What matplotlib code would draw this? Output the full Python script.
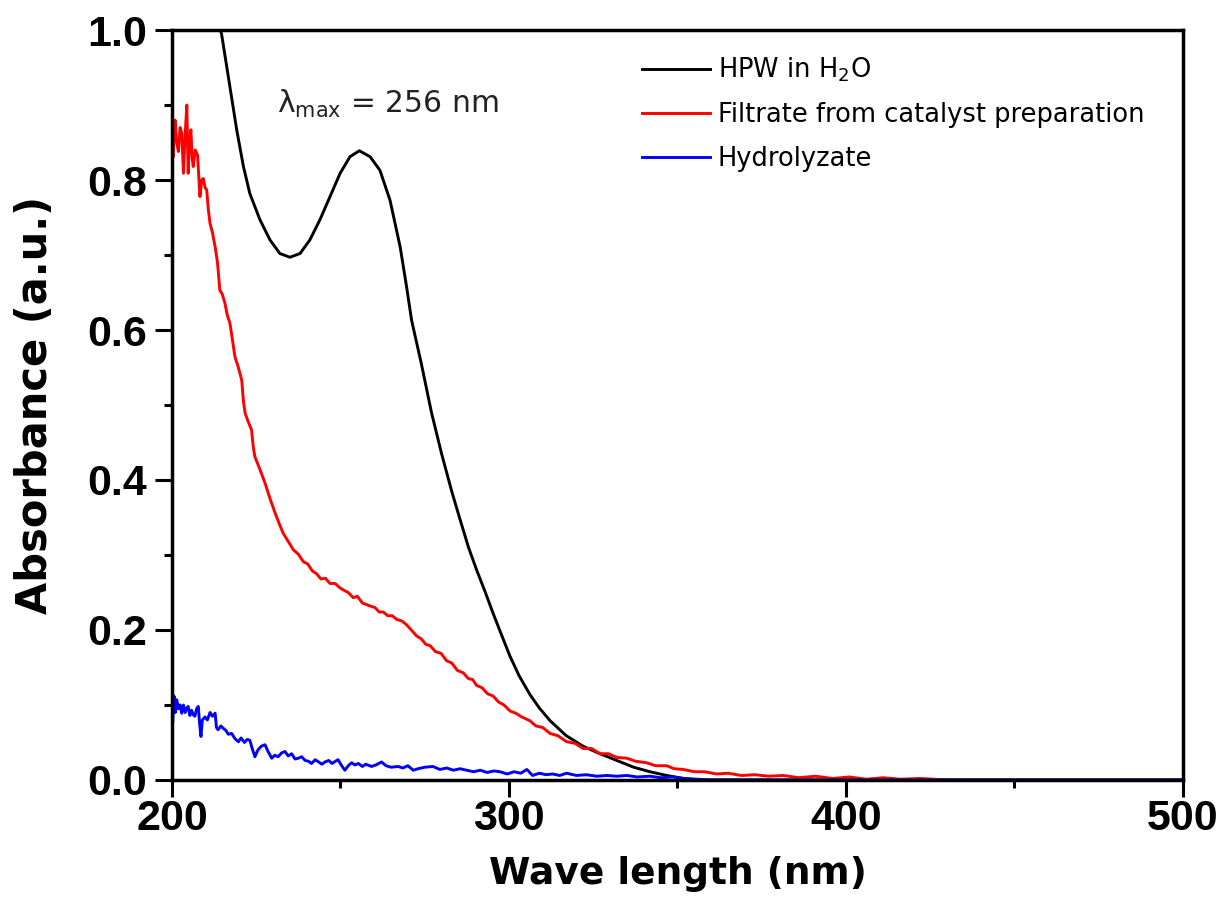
import numpy as np
import matplotlib
matplotlib.use('Agg')
import matplotlib.pyplot as plt
from matplotlib.ticker import MultipleLocator

# HPW in H2O (black)
hpw_wl = [212.8, 214.7, 217.2, 219.2, 221.2, 223.1, 226.1, 229.1, 232.0, 235.0,
          238.0, 240.9, 243.9, 246.9, 249.9, 252.8, 255.6, 258.8, 261.7, 264.7,
          267.7, 269.6, 271.1, 274.0, 277.0, 280.0, 283.0, 285.5, 288.0, 290.4,
          293.0, 295.3, 298.0, 300.3, 303.0, 306.2, 309.0, 312.2, 317.0, 322.0,
          327.0, 332.0, 337.0, 341.8, 346.8, 351.7, 356.0, 400.0, 450.0, 500.0]
hpw_abs = [1.02, 0.995, 0.924, 0.867, 0.818, 0.782, 0.747, 0.72, 0.702, 0.697,
           0.702, 0.72, 0.747, 0.778, 0.809, 0.831, 0.839, 0.831, 0.813, 0.773,
           0.711, 0.658, 0.613, 0.555, 0.49, 0.435, 0.385, 0.347, 0.31, 0.28,
           0.25, 0.222, 0.191, 0.165, 0.139, 0.114, 0.096, 0.079, 0.059, 0.045,
           0.035, 0.026, 0.017, 0.011, 0.006, 0.002, 0.0, 0.0, 0.0, 0.0]

# Filtrate from catalyst preparation (red)
filt_wl = [200.0, 200.3, 200.9, 201.4, 201.9, 202.4, 202.9, 203.4, 203.9, 204.4,
           204.8, 205.2, 205.6, 206.0, 206.3, 206.9, 207.6, 208.0, 208.3, 208.8,
           209.3, 209.8, 210.3, 210.8, 211.3, 212.0, 212.8, 213.5, 214.2, 214.9,
           215.7, 216.4, 217.2, 218.0, 218.7, 219.7, 220.7, 221.2, 221.7, 222.6,
           223.6, 224.1, 224.6, 226.1, 227.6, 229.1, 230.6, 231.8, 233.0, 234.5,
           236.0, 237.5, 239.0, 240.3, 241.6, 242.9, 244.2, 245.5, 246.9, 248.4,
           249.9, 251.0, 252.3, 253.8, 255.0, 256.5, 258.8, 260.2, 261.5, 262.7,
           264.0, 265.4, 266.7, 268.2, 269.6, 271.0, 272.6, 274.0, 275.3, 276.6,
           278.2, 279.8, 281.5, 283.0, 284.7, 286.4, 288.0, 289.2, 290.4, 292.0,
           293.6, 295.3, 296.9, 298.5, 300.3, 302.0, 303.8, 306.2, 308.0, 310.0,
           312.2, 314.5, 317.1, 319.5, 322.0, 324.5, 327.0, 329.5, 332.0, 335.0,
           337.5, 340.8, 343.5, 346.8, 349.0, 351.7, 355.0, 358.0, 361.6, 365.0,
           369.0, 373.0, 377.0, 381.3, 386.0, 391.0, 396.0, 401.0, 406.0, 411.0,
           416.0, 422.0, 430.0, 500.0]
filt_abs = [0.887, 0.83, 0.88, 0.85, 0.838, 0.87, 0.862, 0.809, 0.86, 0.90,
            0.809, 0.85, 0.867, 0.83, 0.818, 0.84, 0.833, 0.80, 0.778, 0.80,
            0.802, 0.79, 0.787, 0.76, 0.742, 0.73, 0.711, 0.69, 0.653, 0.648,
            0.636, 0.62, 0.609, 0.585, 0.564, 0.55, 0.533, 0.505, 0.489, 0.478,
            0.467, 0.445, 0.431, 0.414, 0.396, 0.375, 0.356, 0.342, 0.329, 0.318,
            0.307, 0.301, 0.291, 0.288, 0.279, 0.275, 0.268, 0.269, 0.262, 0.262,
            0.256, 0.253, 0.25, 0.243, 0.245, 0.236, 0.232, 0.23, 0.224, 0.224,
            0.219, 0.219, 0.214, 0.212, 0.207, 0.2, 0.192, 0.188, 0.181, 0.179,
            0.171, 0.169, 0.159, 0.156, 0.146, 0.143, 0.135, 0.134, 0.126, 0.123,
            0.115, 0.112, 0.104, 0.1, 0.092, 0.089, 0.084, 0.079, 0.072, 0.07,
            0.062, 0.059, 0.051, 0.049, 0.042, 0.042, 0.035, 0.035, 0.03, 0.029,
            0.025, 0.023, 0.019, 0.019, 0.015, 0.014, 0.011, 0.011, 0.008, 0.009,
            0.006, 0.007, 0.005, 0.006, 0.003, 0.005, 0.002, 0.004, 0.001, 0.003,
            0.001, 0.002, 0.0, 0.0]

# Hydrolyzate (blue)
hyd_wl = [200.0, 200.2, 200.6, 201.0, 201.4, 201.9, 202.4, 202.9, 203.4, 203.9,
          204.4, 204.8, 205.3, 205.8, 206.3, 206.8, 207.3, 207.8, 208.2, 208.6,
          209.0, 209.8, 210.5, 211.3, 212.0, 212.8, 213.2, 213.7, 214.5, 215.2,
          216.0, 216.7, 217.7, 218.7, 219.7, 220.5, 221.5, 222.3, 223.1, 223.8,
          224.6, 225.5, 226.5, 227.6, 228.5, 229.6, 230.5, 231.5, 232.5, 233.5,
          234.5, 235.5, 236.5, 237.5, 238.5, 239.5, 240.5, 241.4, 242.5, 243.5,
          244.5, 245.4, 246.5, 247.5, 248.5, 249.3, 250.2, 251.3, 252.3, 253.3,
          254.3, 255.3, 256.5, 257.5, 259.2, 260.5, 262.2, 263.5, 265.0, 267.1,
          268.5, 270.0, 271.6, 273.0, 275.0, 277.4, 279.5, 281.5, 283.5, 285.5,
          287.4, 289.5, 291.5, 293.5, 295.5, 297.3, 299.5, 301.5, 303.5, 305.3,
          307.0, 309.0, 311.0, 313.0, 315.0, 317.1, 320.0, 323.0, 326.0, 329.0,
          332.0, 335.0, 338.0, 341.8, 345.0, 348.7, 352.0, 356.0, 360.0, 500.0]
hyd_abs = [0.116, 0.076, 0.112, 0.09, 0.107, 0.095, 0.1, 0.089, 0.1, 0.09,
           0.096, 0.098, 0.086, 0.093, 0.087, 0.085, 0.095, 0.098, 0.075, 0.058,
           0.08, 0.084, 0.08, 0.09, 0.085, 0.089, 0.07, 0.067, 0.072, 0.069,
           0.066, 0.061, 0.062, 0.055, 0.051, 0.056, 0.05, 0.054, 0.053, 0.042,
           0.031, 0.04, 0.045, 0.047, 0.038, 0.029, 0.033, 0.031, 0.036, 0.038,
           0.032, 0.035, 0.028, 0.029, 0.031, 0.026, 0.025, 0.022, 0.027, 0.024,
           0.021, 0.024, 0.026, 0.022, 0.025, 0.027, 0.02, 0.013, 0.019, 0.023,
           0.02, 0.022, 0.018, 0.021, 0.018, 0.02, 0.024, 0.019, 0.017, 0.018,
           0.016, 0.019, 0.013, 0.015, 0.017, 0.018, 0.014, 0.016, 0.013, 0.015,
           0.013, 0.011, 0.013, 0.01, 0.012, 0.011, 0.008, 0.011, 0.009, 0.014,
           0.006, 0.009, 0.007, 0.008, 0.006, 0.009, 0.006, 0.007, 0.005, 0.006,
           0.005, 0.006, 0.004, 0.005, 0.003, 0.004, 0.002, 0.001, 0.0, 0.0]

x_ticks = [200, 300, 400, 500]
y_ticks = [0.0, 0.2, 0.4, 0.6, 0.8, 1.0]

plt.rcParams['mathtext.default'] = 'regular'

fig = plt.figure(figsize=(12.25, 8.99), dpi=100)
ax = fig.add_axes([0.1404, 0.1324, 0.8253, 0.8342])

ax.plot(hpw_wl, hpw_abs, color='black', lw=2.1, label='HPW in H$_2$O')
ax.plot(filt_wl, filt_abs, color='#ff0000', lw=2.1, label='Filtrate from catalyst preparation')
ax.plot(hyd_wl, hyd_abs, color='#0000ff', lw=2.1, label='Hydrolyzate')

ax.set_xlim(200, 500)
ax.set_ylim(0, 1.0)
ax.set_xticks(x_ticks)
ax.set_yticks(y_ticks)
ax.xaxis.set_minor_locator(MultipleLocator(50))
ax.yaxis.set_minor_locator(MultipleLocator(0.1))
ax.set_xticklabels([str(v) for v in x_ticks])
ax.set_yticklabels(['%.1f' % v for v in y_ticks])

for s in ax.spines.values():
    s.set_linewidth(2.5)
ax.tick_params(which='major', direction='out', length=12, width=2.2, top=False, right=False)
ax.tick_params(which='minor', direction='out', length=6, width=2.2, top=False, right=False)
ax.tick_params(axis='x', pad=2)
ax.tick_params(axis='y', pad=6)
for lab in ax.get_xticklabels() + ax.get_yticklabels():
    lab.set_fontfamily('Liberation Sans')
    lab.set_fontweight('bold')
    lab.set_fontsize(31)

ax.set_xlabel('Wave length (nm)', fontsize=27, fontweight='bold', family='DejaVu Sans', va='center')
ax.set_ylabel('Absorbance (a.u.)', fontsize=30, fontweight='bold', family='DejaVu Sans', va='center')
ax.xaxis.set_label_coords(0.5, -0.125)
ax.yaxis.set_label_coords(-0.1355, 0.5)

ax.text(231.1, 0.889, r'$\lambda_{max}$ = 256 nm', fontsize=21.4, color='#222222', va='baseline')

ax.legend(loc='upper left', bbox_to_anchor=(0.4649, 0.966), frameon=False,
          fontsize=18.5, borderpad=0, borderaxespad=0, handlelength=2.65,
          handletextpad=0.3, labelspacing=0.7)

plt.savefig('out.png', dpi=100)
